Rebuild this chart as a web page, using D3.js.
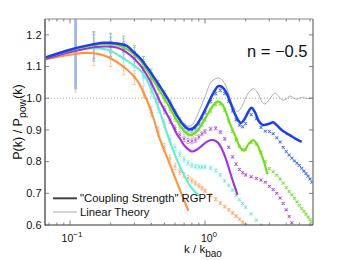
<!DOCTYPE html>
<html><head><meta charset="utf-8">
<script src="https://cdn.jsdelivr.net/npm/d3@7"></script>
<style>body{margin:0;background:#fff}svg{display:block;font-family:"Liberation Sans",Arial,Helvetica,sans-serif}</style>
</head><body><svg id="c" width="346" height="260"></svg>
<script>
// ---------- data ----------
const yTicks = [0.6, 0.7, 0.8, 0.9, 1.0, 1.1, 1.2];
const yTickLabels = ["0.6", "0.7", "0.8", "0.9", "1.0", "1.1", "1.2"];
const xMajor = [0.1, 1];
const xMajorExp = ["\u22121", "0"];
const xMinor = [0.07, 0.08, 0.09, 0.2, 0.3, 0.4, 0.5, 0.6, 0.7, 0.8, 0.9, 2, 3, 4, 5, 6];

// measured k bins and their error sizes
const dataK = [0.11,0.15,0.2,0.25,0.3,0.35,0.4,0.45,0.5,0.55,0.6,0.65,0.7,0.75,0.8,0.85,0.9,0.95,1.0,
  1.1,1.2,1.3,1.4,1.5,1.6,1.7,1.8,1.9,2.0,2.2,2.4,2.6,2.8,3.0,3.2,3.4,3.6,3.8,4.0,4.2,4.4,4.6,4.8,5.0,5.2,5.4,5.6,5.8,6.0,6.2];
const dataErr = [0.12,0.042,0.03,0.026,0.022,0.019,0.016,0.014,0.012,0.011,0.010,0.009,0.0085,0.008,0.0075,0.007,0.0065,0.006,0.006,
  0.0055,0.005,0.0045,0.0045,0.004,0.004,0.004,0.0035,0.0035,0.0035,0.003,0.003,0.003,0.0025,0.0025,0.0025,0.0025,0.0025,0.0025,0.0025,0.0025,0.0025,0.0025,0.0025,0.0025,0.0025,0.0025,0.0025,0.0025,0.0025,0.0025];

const blueData = [1.155,1.168,1.175,1.17,1.145,1.113,1.076,1.043,1.012,0.984,0.955,0.93,0.912,0.902,0.9,0.906,0.92,0.937,0.955,
  0.99,1.015,1.025,1.015,0.99,0.96,0.932,0.915,0.91,0.92,0.948,0.935,0.908,0.896,0.895,0.888,0.875,0.862,0.845,0.832,0.821,0.811,0.802,0.795,0.788,0.779,0.77,0.762,0.754,0.745,0.735];
const greenData = [1.155,1.166,1.172,1.163,1.138,1.103,1.065,1.03,0.997,0.965,0.937,0.912,0.895,0.886,0.884,0.89,0.902,0.917,0.932,
  0.96,0.98,0.982,0.962,0.928,0.895,0.868,0.848,0.837,0.838,0.86,0.855,0.83,0.8,0.778,0.768,0.757,0.745,0.732,0.718,0.706,0.695,0.684,0.673,0.662,0.652,0.643,0.634,0.625,0.617,0.609];
const purpleData = [1.15,1.16,1.162,1.152,1.125,1.09,1.045,1.0,0.963,0.932,0.905,0.885,0.872,0.865,0.864,0.868,0.878,0.888,0.895,
  0.903,0.905,0.893,0.872,0.845,0.815,0.792,0.775,0.765,0.758,0.752,0.747,0.742,0.735,0.722,0.712,0.7,0.685,0.668,0.648,0.627,0.607];
const cyanData = [1.148,1.158,1.15,1.125,1.1,1.065,1.02,0.968,0.92,0.872,0.845,0.825,0.807,0.795,0.788,0.784,0.783,0.783,0.783,
  0.78,0.772,0.758,0.74,0.725,0.71,0.694,0.68,0.668,0.656,0.635,0.615,0.6];
const orangeData = [1.14,1.145,1.13,1.1,1.065,1.02,0.958,0.895,0.845,0.81,0.785,0.768,0.757,0.748,0.74,0.732,0.724,0.716,0.708,
  0.694,0.681,0.669,0.658,0.648,0.638,0.628,0.618,0.609,0.6];

// "Coupling Strength" RGPT curves
const blueLineK = [0.0653,0.1,0.133,0.177,0.222,0.263,0.295,0.33,0.392,0.464,0.535,0.617,0.691,0.752,0.8,0.868,1.0,1.152,1.255,1.336,1.43,1.53,1.62,1.765,
  1.85,1.95,2.08,2.21,2.35,2.5,2.65,2.8,3.0,3.2,3.4,3.7,4.0,4.3,4.7,5.2];
const blueLineV = [1.128,1.153,1.166,1.175,1.173,1.165,1.146,1.127,1.084,1.037,0.995,0.947,0.916,0.903,0.903,0.916,0.963,1.016,1.038,1.036,1.02,0.99,0.963,0.93,
  0.922,0.932,0.955,0.97,0.955,0.928,0.917,0.916,0.92,0.924,0.915,0.9,0.89,0.882,0.872,0.862];
const greenLineK = [0.0653,0.1,0.133,0.177,0.222,0.278,0.33,0.392,0.464,0.535,0.617,0.691,0.774,0.868,1.0,1.152,1.245,1.35,1.53,1.70,1.82,1.95,2.12,2.27,2.43,2.6,2.73,2.9];
const greenLineV = [1.127,1.151,1.163,1.171,1.169,1.149,1.12,1.073,1.022,0.978,0.93,0.9,0.884,0.895,0.935,0.978,0.99,0.98,0.92,0.875,0.845,0.835,0.858,0.868,0.855,0.825,0.8,0.76];
const purpleLineK = [0.0653,0.1,0.133,0.177,0.222,0.278,0.33,0.392,0.464,0.53,0.576,0.617,0.653,0.697,0.745,0.8,0.872,0.96,1.045,1.145,1.245,1.334,1.43,1.53,1.62,1.74];
const purpleLineV = [1.124,1.145,1.157,1.163,1.16,1.137,1.105,1.055,0.99,0.945,0.915,0.888,0.872,0.853,0.84,0.832,0.838,0.852,0.864,0.868,0.86,0.84,0.808,0.768,0.735,0.695];
const cyanLineK = [0.0653,0.1,0.146,0.192,0.248,0.33,0.363,0.408,0.452,0.5,0.553,0.617,0.686,0.771,0.898];
const cyanLineV = [1.125,1.148,1.158,1.152,1.126,1.089,1.065,1.02,0.97,0.915,0.86,0.808,0.765,0.725,0.693];
const orangeLineK = [0.0653,0.1,0.136,0.187,0.248,0.312,0.366,0.413,0.464,0.551,0.653,0.753];
const orangeLineV = [1.122,1.137,1.143,1.132,1.1,1.058,1.0,0.94,0.87,0.79,0.71,0.645];

// Linear theory
const linK = [0.0653,0.1,0.133,0.177,0.222,0.263,0.33,0.392,0.464,0.535,0.617,0.691,0.752,0.8,0.868,1.0,1.121,1.27,1.406,1.532,1.64,1.747,1.88,2.083,2.287,2.47,2.644,2.78,2.98,3.3,3.53,3.72,3.98,4.26,4.56,4.8,5.05,5.35,5.6,5.99,6.31];
const linV = [1.128,1.153,1.166,1.176,1.174,1.166,1.129,1.087,1.041,1.0,0.953,0.922,0.912,0.915,0.942,1.005,1.053,1.064,1.045,1.0,0.97,0.958,0.975,1.015,1.03,1.015,0.988,0.982,0.995,1.016,1.005,0.995,0.997,1.007,1.0,0.997,1.001,1.003,0.999,1.0,1.0];

const legendLabels = ["\"Coupling Strength\" RGPT", "Linear Theory"];
const panelLabel = "n = \u22120.5";

// ---------- drawing ----------
const svg = d3.select("#c");
const L = 45, R = 313, T = 19, B = 225;
const x = d3.scaleLog().domain([0.0653, 6.31]).range([L, R]);
const y = d3.scaleLinear().domain([0.6, 1.25]).range([B, T]);

svg.append("defs").append("clipPath").attr("id", "clip")
  .append("rect").attr("x", L).attr("y", T).attr("width", R - L).attr("height", B - T);
const plot = svg.append("g").attr("clip-path", "url(#clip)");

// reference line at 1
plot.append("line").attr("x1", L).attr("x2", R).attr("y1", y(1)).attr("y2", y(1))
  .attr("stroke", "#999").attr("stroke-width", 0.8).attr("stroke-dasharray", "1,2");

const line = d3.line().x(d => x(d[0])).y(d => y(d[1])).curve(d3.curveCatmullRom.alpha(0.5));
const zip = (a, b) => a.map((v, i) => [v, b[i]]);

// linear theory
plot.append("path").datum(zip(linK, linV)).attr("d", line)
  .attr("fill", "none").attr("stroke", "#9a9a9a").attr("stroke-width", 0.8);

const series = [
  {data: orangeData, lk: orangeLineK, lv: orangeLineV, lc: "#ff9340", dc: "#ffa868", ec: "#ffc090", w: 2.1},
  {data: cyanData, lk: cyanLineK, lv: cyanLineV, lc: "#5ff0d6", dc: "#70e8d8", ec: "#a4f2e8", w: 2.1},
  {data: purpleData, lk: purpleLineK, lv: purpleLineV, lc: "#a42ee2", dc: "#b050ec", ec: "#cc98f0", w: 2.1},
  {data: greenData, lk: greenLineK, lv: greenLineV, lc: "#6ee012", dc: "#80e040", ec: "#acea88", w: 2.1},
  {data: blueData, lk: blueLineK, lv: blueLineV, lc: "#1c3ef2", dc: "#5070f4", ec: "#9cb4e4", w: 2.5}
];

// data with error bars
series.forEach((s, si) => {
  const g = plot.append("g");
  s.data.forEach((v, i) => {
    const k = dataK[i], e = dataErr[i];
    const cx = x(k), cy = y(v);
    const y0 = y(v - e), y1 = y(v + e);
    const wide = i === 0 && si === series.length - 1;
    g.append("line").attr("x1", cx).attr("x2", cx).attr("y1", y0).attr("y2", y1)
      .attr("stroke", s.ec).attr("stroke-width", wide ? 2.6 : 0.9);
    [y0, y1].forEach(yy => g.append("line").attr("x1", cx - 1.6).attr("x2", cx + 1.6)
      .attr("y1", yy).attr("y2", yy).attr("stroke", s.ec).attr("stroke-width", 0.9));
    const m = 1.4;
    g.append("path").attr("d", `M${cx - m},${cy - m}L${cx + m},${cy + m}M${cx - m},${cy + m}L${cx + m},${cy - m}`)
      .attr("stroke", s.dc).attr("stroke-width", 1).attr("fill", "none");
  });
});

// RGPT lines
series.forEach(s => {
  plot.append("path").datum(zip(s.lk, s.lv)).attr("d", line)
    .attr("fill", "none").attr("stroke", s.lc).attr("stroke-width", s.w);
});

// frame
const fr = svg.append("g");
fr.append("line").attr("x1", L).attr("x2", R).attr("y1", T).attr("y2", T).attr("stroke", "#888").attr("stroke-width", 1);
fr.append("line").attr("x1", R).attr("x2", R).attr("y1", T).attr("y2", B).attr("stroke", "#888").attr("stroke-width", 1.5);
fr.append("line").attr("x1", L).attr("x2", L).attr("y1", T).attr("y2", B + 0.5).attr("stroke", "#777").attr("stroke-width", 1.8);
fr.append("line").attr("x1", L).attr("x2", R).attr("y1", B).attr("y2", B).attr("stroke", "#333").attr("stroke-width", 1.2);

// ticks
const tk = svg.append("g").attr("stroke", "#666").attr("stroke-width", 0.8);
xMajor.forEach(k => {
  tk.append("line").attr("x1", x(k)).attr("x2", x(k)).attr("y1", B).attr("y2", B - 4.5);
  tk.append("line").attr("x1", x(k)).attr("x2", x(k)).attr("y1", T).attr("y2", T + 4.5);
});
xMinor.forEach(k => {
  tk.append("line").attr("x1", x(k)).attr("x2", x(k)).attr("y1", B).attr("y2", B - 2.5);
  tk.append("line").attr("x1", x(k)).attr("x2", x(k)).attr("y1", T).attr("y2", T + 2.5);
});
yTicks.forEach(v => {
  tk.append("line").attr("x1", L).attr("x2", L + 4).attr("y1", y(v)).attr("y2", y(v));
  tk.append("line").attr("x1", R).attr("x2", R - 4).attr("y1", y(v)).attr("y2", y(v));
});

// tick labels
yTicks.forEach((v, i) => {
  svg.append("text").attr("x", 41.5).attr("y", y(v) + 3.8).attr("text-anchor", "end")
    .attr("font-size", 11).attr("fill", "#111").text(yTickLabels[i]);
});
xMajor.forEach((k, i) => {
  const t = svg.append("text").attr("x", x(k) + (i === 0 ? 2 : 4)).attr("y", 242).attr("text-anchor", "middle")
    .attr("font-size", 10.5).attr("fill", "#111");
  t.append("tspan").text("10");
  t.append("tspan").attr("dy", -5).attr("font-size", 8).text(xMajorExp[i]);
});

// axis labels
const xl = svg.append("text").attr("x", 203).attr("y", 252.5).attr("text-anchor", "middle")
  .attr("font-size", 11.5).attr("fill", "#111");
xl.append("tspan").text("k / k");
xl.append("tspan").attr("dy", 4.5).attr("font-size", 10).text("bao");

const yl = svg.append("text").attr("transform", "translate(22,122) rotate(-90)").attr("text-anchor", "middle")
  .attr("font-size", 12.5).attr("fill", "#111");
yl.append("tspan").text("P(k) / P");
yl.append("tspan").attr("dy", 4).attr("font-size", 10.5).text("pow");
yl.append("tspan").attr("dy", -4).text("(k)");

// panel label
svg.append("text").attr("x", 307.5).attr("y", 57.3).attr("text-anchor", "end")
  .attr("font-size", 16.5).attr("fill", "#111").text(panelLabel);

// legend
const lg = svg.append("g");
lg.append("line").attr("x1", 53).attr("x2", 77).attr("y1", 198.3).attr("y2", 198.3).attr("stroke", "#444").attr("stroke-width", 2);
lg.append("text").attr("x", 80).attr("y", 202.3).attr("font-size", 11.3).attr("fill", "#111").text(legendLabels[0]);
lg.append("line").attr("x1", 53).attr("x2", 77).attr("y1", 212).attr("y2", 212).attr("stroke", "#aaa").attr("stroke-width", 1);
lg.append("text").attr("x", 80).attr("y", 216).attr("font-size", 11.3).attr("fill", "#111").text(legendLabels[1]);
</script></body></html>
